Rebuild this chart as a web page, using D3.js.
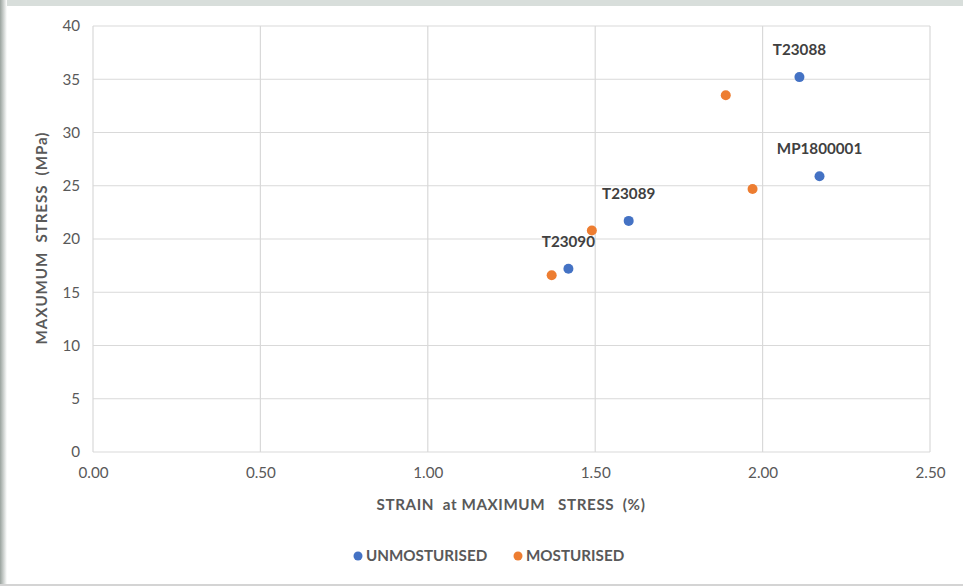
<!DOCTYPE html>
<html>
<head>
<meta charset="utf-8">
<script src="https://cdn.jsdelivr.net/npm/d3@7"></script>
<style>
  html, body { margin: 0; padding: 0; background: #fff; }
  svg { display: block; }
</style>
</head>
<body>
<svg id="chart" width="963" height="586"></svg>
<script>
// Tensile test results: strain vs stress at maximum stress
const samples = ["T23088", "MP1800001", "T23089", "T23090"];
const unmoistStrain = [2.11, 2.17, 1.60, 1.42];
const unmoistStress = [35.2, 25.9, 21.7, 17.2];
const moistStrain = [1.89, 1.97, 1.49, 1.37];
const moistStress = [33.5, 24.7, 20.8, 16.6];
const xTicks = [0, 0.5, 1.0, 1.5, 2.0, 2.5];
const yTicks = [0, 5, 10, 15, 20, 25, 30, 35, 40];
const seriesNames = ["UNMOSTURISED", "MOSTURISED"];
const seriesColors = ["#4472c4", "#ed7d31"];

const W = 963, H = 586;
const svg = d3.select("#chart");
const font = "Lato, 'Open Sans', sans-serif";
const fs = "15.2px";

// window frame
const defs = svg.append("defs");
const grad = defs.append("linearGradient").attr("id", "edge").attr("x1", 0).attr("x2", 1);
grad.append("stop").attr("offset", 0).attr("stop-color", "#9aa39e");
grad.append("stop").attr("offset", 1).attr("stop-color", "#ffffff");
svg.append("rect").attr("x", 0).attr("y", 0).attr("width", W).attr("height", 6).attr("fill", "#d8dedb");
svg.append("rect").attr("x", 0).attr("y", 0).attr("width", 7).attr("height", H).attr("fill", "url(#edge)");
svg.append("rect").attr("x", 0).attr("y", 584).attr("width", W).attr("height", 2).attr("fill", "#d4d4d4");

const x = d3.scaleLinear().domain([0, 2.5]).range([93, 930]);
const y = d3.scaleLinear().domain([0, 40]).range([452, 26]);

const g = svg.append("g");

// gridlines
g.append("g").selectAll("line").data(yTicks).join("line")
  .attr("x1", x(0)).attr("x2", x(2.5))
  .attr("y1", d => y(d)).attr("y2", d => y(d))
  .attr("stroke", "#d9d9d9").attr("stroke-width", 1.2);
g.append("g").selectAll("line").data(xTicks).join("line")
  .attr("y1", y(0)).attr("y2", y(40))
  .attr("x1", d => x(d)).attr("x2", d => x(d))
  .attr("stroke", "#d9d9d9").attr("stroke-width", 1.2);

// axes tick labels
const yAxis = d3.axisLeft(y).tickValues(yTicks).tickSize(0).tickPadding(13).tickFormat(d3.format("d"));
const yg = g.append("g").attr("transform", `translate(${x(0)},0)`).call(yAxis);
const xAxis = d3.axisBottom(x).tickValues(xTicks).tickSize(0).tickPadding(15).tickFormat(d3.format(".2f"));
const xg = g.append("g").attr("transform", `translate(0,${y(0)})`).call(xAxis);
[yg, xg].forEach(a => {
  a.select(".domain").remove();
  a.selectAll("text").attr("fill", "#595959").style("font-family", font).style("font-size", fs);
});

// axis titles
svg.append("text").attr("x", 511).attr("y", 510).attr("text-anchor", "middle")
  .attr("fill", "#595959").style("font-family", font).style("font-size", fs).style("font-weight", "bold")
  .style("letter-spacing", "0.6px")
  .attr("xml:space", "preserve")
  .text("STRAIN  at MAXIMUM   STRESS  (%)");
svg.append("text").attr("transform", "translate(47,238) rotate(-90)").attr("text-anchor", "middle")
  .attr("fill", "#595959").style("font-family", font).style("font-size", fs).style("font-weight", "bold")
  .style("letter-spacing", "0.9px")
  .attr("xml:space", "preserve")
  .text("MAXUMUM  STRESS  (MPa)");

// points
const unmoist = samples.map((s, i) => ({ name: s, x: unmoistStrain[i], y: unmoistStress[i] }));
const moist = samples.map((s, i) => ({ name: s, x: moistStrain[i], y: moistStress[i] }));

g.append("g").selectAll("circle").data(moist).join("circle")
  .attr("cx", d => x(d.x)).attr("cy", d => y(d.y)).attr("r", 5).attr("fill", seriesColors[1]);
g.append("g").selectAll("circle").data(unmoist).join("circle")
  .attr("cx", d => x(d.x)).attr("cy", d => y(d.y)).attr("r", 5).attr("fill", seriesColors[0]);

// sample labels above the unmoisturised points
g.append("g").selectAll("text").data(unmoist).join("text")
  .attr("x", d => x(d.x)).attr("y", d => y(d.y) - 22)
  .attr("text-anchor", "middle").attr("fill", "#404040")
  .style("font-family", font).style("font-size", fs).style("font-weight", "bold")
  .text(d => d.name);

// legend
const legendItems = [{ x: 358 }, { x: 518 }];
const lg = svg.append("g");
seriesNames.forEach((name, i) => {
  lg.append("circle").attr("cx", legendItems[i].x).attr("cy", 556).attr("r", 4.5).attr("fill", seriesColors[i]);
  lg.append("text").attr("x", legendItems[i].x + 8).attr("y", 561)
    .attr("fill", "#595959").style("font-family", font).style("font-size", fs).style("font-weight", "bold")
    .text(name);
});
</script>
</body>
</html>
